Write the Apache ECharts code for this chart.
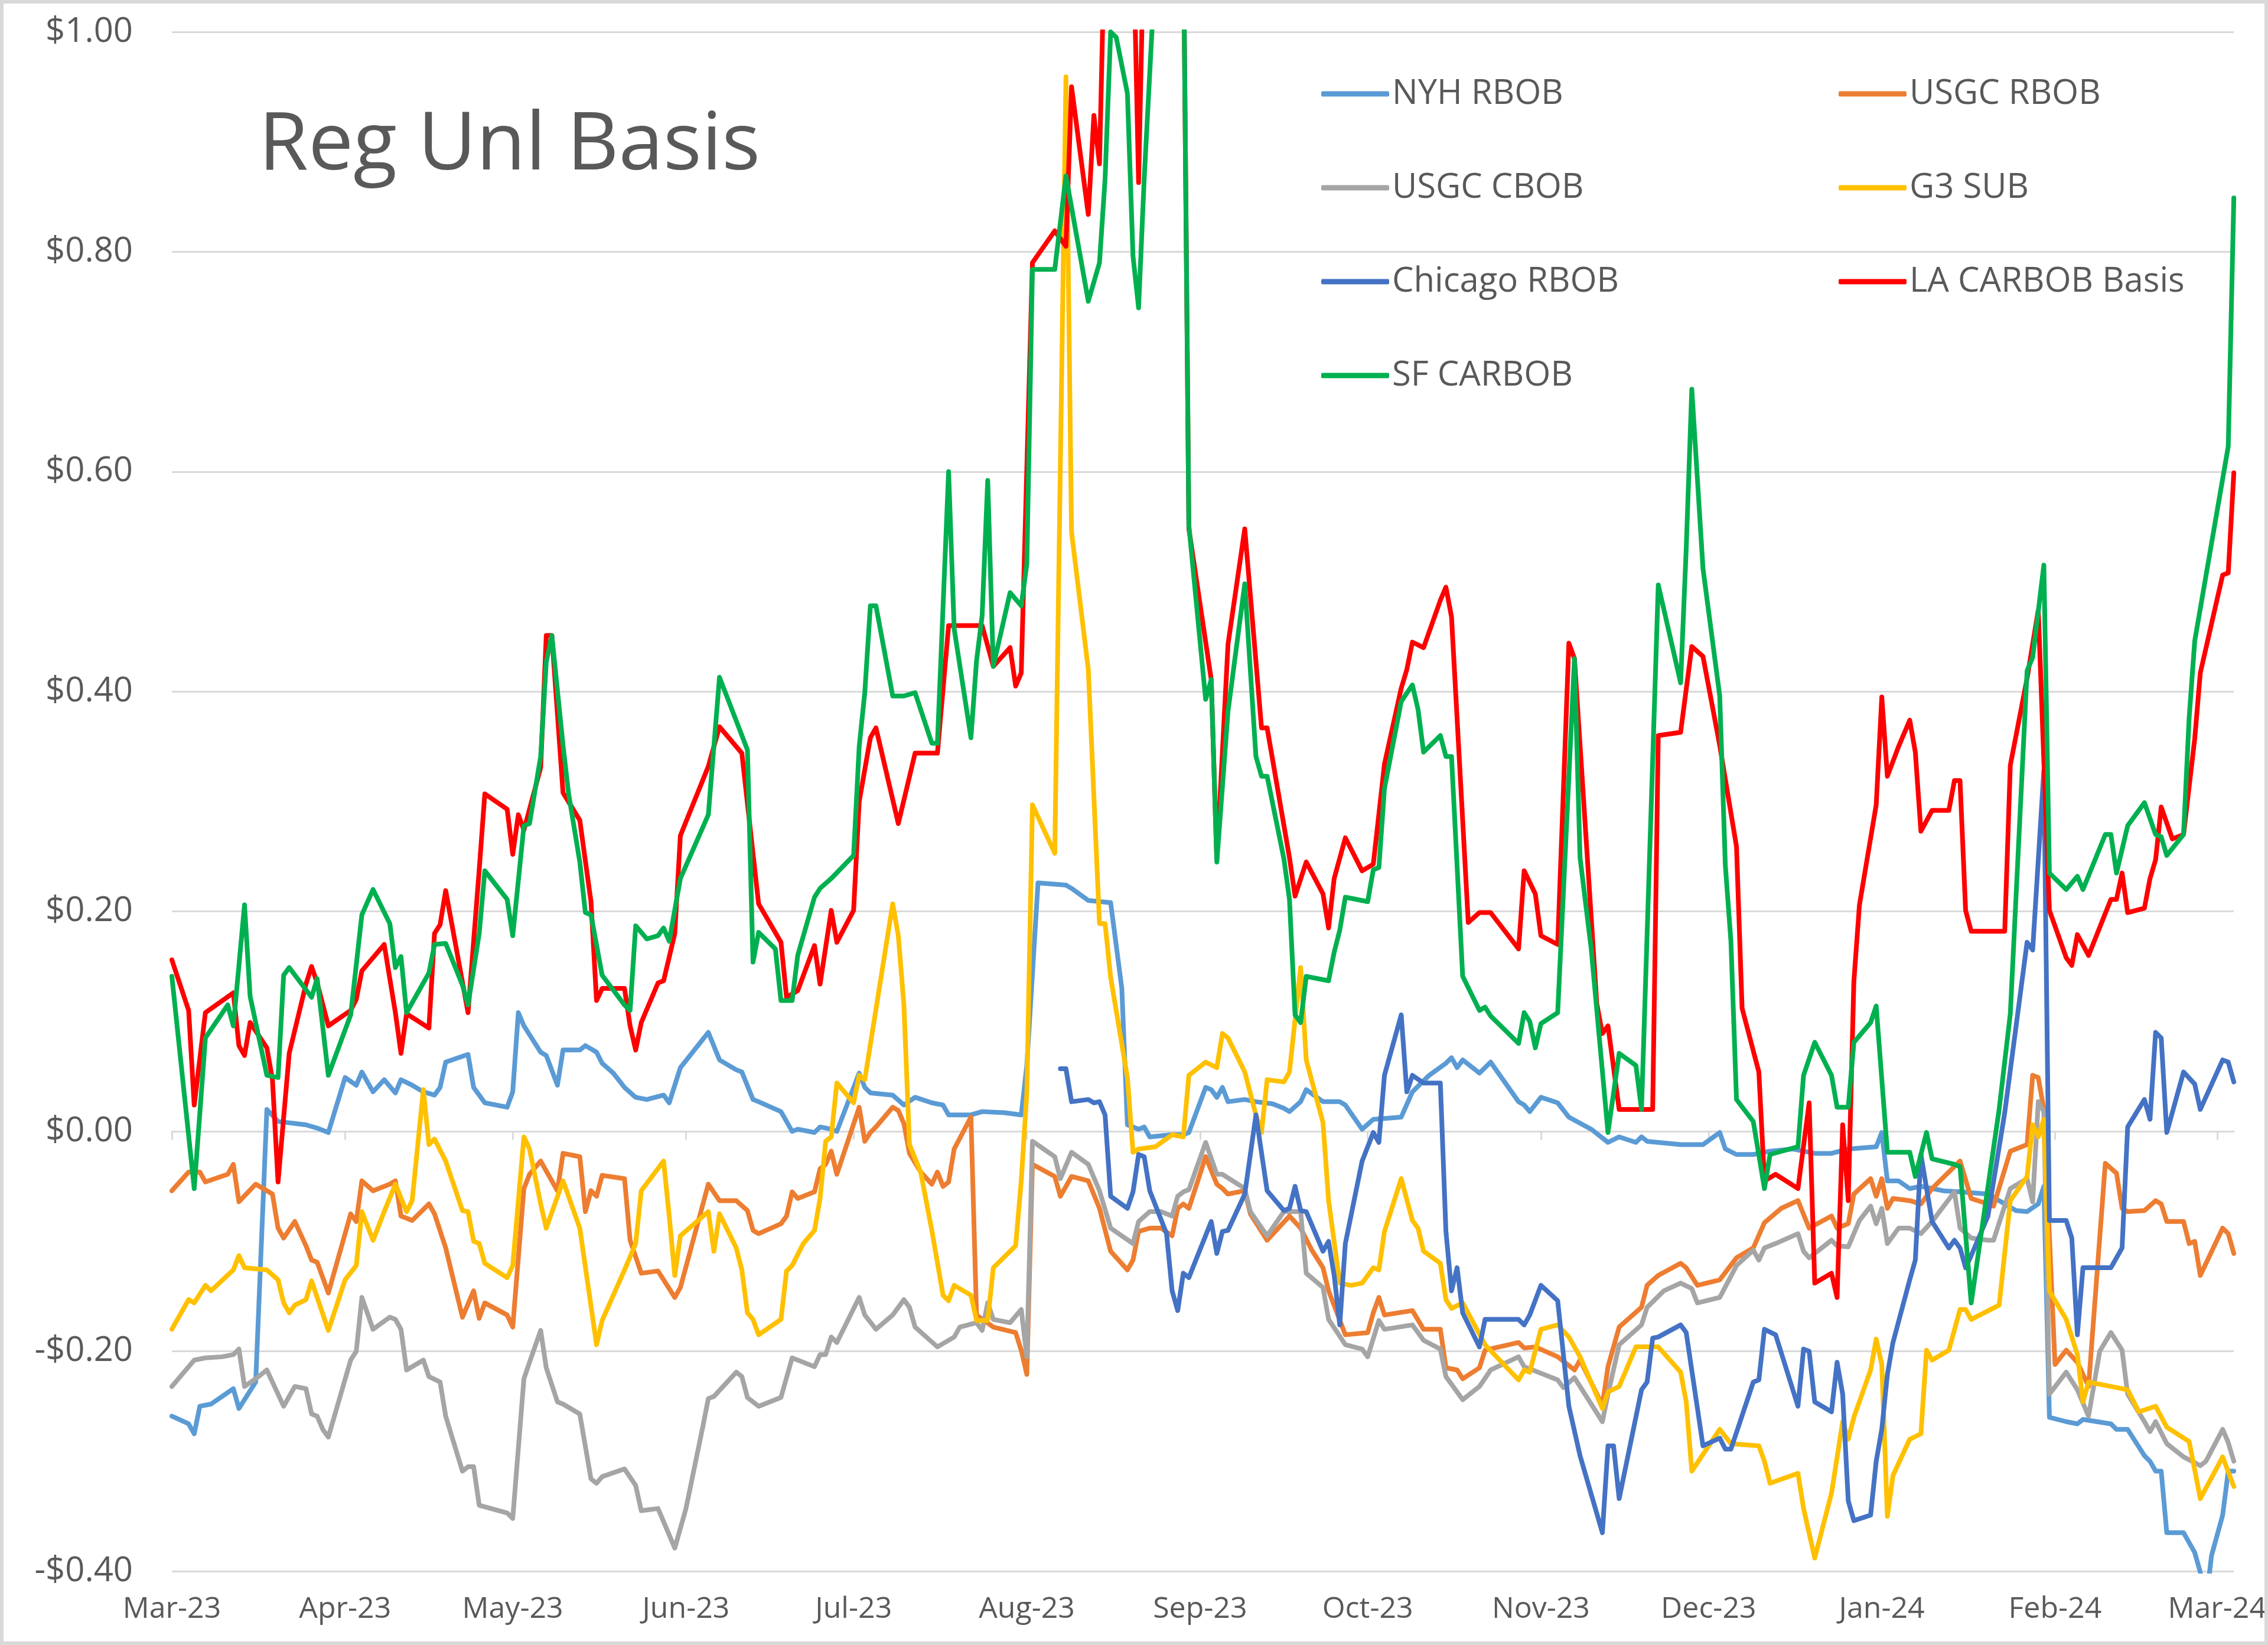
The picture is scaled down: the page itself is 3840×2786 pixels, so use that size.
<!DOCTYPE html>
<html><head><meta charset="utf-8">
<script src="https://cdn.jsdelivr.net/npm/echarts@6/dist/echarts.min.js"></script>
<style>html,body{margin:0;padding:0;background:#fff}#chart{width:3840px;height:2786px}</style>
</head><body><div id="chart"></div>
<script>
const chartTitle = 'Reg Unl Basis';
const monthTicks = ['2023-03-01','2023-04-01','2023-05-01','2023-06-01','2023-07-01','2023-08-01','2023-09-01','2023-10-01','2023-11-01','2023-12-01','2024-01-01','2024-02-01','2024-03-01'];
const monthNames = ['Jan','Feb','Mar','Apr','May','Jun','Jul','Aug','Sep','Oct','Nov','Dec'];
const xStart = '2023-03-01';
const xEnd = '2024-03-04';
const yMin = -0.4, yMax = 1.0, yStep = 0.2;

const nyhRbob = [['2023-03-01',-0.259],['2023-03-04',-0.266],['2023-03-05',-0.275],['2023-03-06',-0.250],['2023-03-08',-0.248],['2023-03-12',-0.234],['2023-03-13',-0.252],['2023-03-16',-0.228],['2023-03-18',0.020],['2023-03-20',0.009],['2023-03-25',0.006],['2023-03-27',0.003],['2023-03-29',-0.001],['2023-04-01',0.049],['2023-04-03',0.042],['2023-04-04',0.054],['2023-04-06',0.036],['2023-04-08',0.047],['2023-04-10',0.035],['2023-04-11',0.047],['2023-04-13',0.042],['2023-04-15',0.036],['2023-04-17',0.033],['2023-04-18',0.040],['2023-04-19',0.063],['2023-04-23',0.070],['2023-04-24',0.040],['2023-04-26',0.026],['2023-04-30',0.022],['2023-05-01',0.036],['2023-05-02',0.108],['2023-05-03',0.096],['2023-05-06',0.072],['2023-05-07',0.069],['2023-05-09',0.042],['2023-05-10',0.074],['2023-05-13',0.074],['2023-05-14',0.078],['2023-05-16',0.072],['2023-05-17',0.062],['2023-05-19',0.053],['2023-05-21',0.040],['2023-05-23',0.031],['2023-05-25',0.029],['2023-05-28',0.033],['2023-05-29',0.026],['2023-05-31',0.058],['2023-06-05',0.090],['2023-06-07',0.065],['2023-06-10',0.056],['2023-06-11',0.054],['2023-06-13',0.029],['2023-06-14',0.027],['2023-06-18',0.018],['2023-06-20',0.000],['2023-06-21',0.002],['2023-06-24',-0.001],['2023-06-25',0.004],['2023-06-27',0.002],['2023-06-28',0.000],['2023-07-02',0.053],['2023-07-03',0.040],['2023-07-04',0.035],['2023-07-08',0.033],['2023-07-10',0.024],['2023-07-12',0.031],['2023-07-15',0.026],['2023-07-17',0.024],['2023-07-18',0.015],['2023-07-22',0.015],['2023-07-24',0.018],['2023-07-28',0.017],['2023-07-31',0.015],['2023-08-01',0.060],['2023-08-03',0.226],['2023-08-08',0.224],['2023-08-09',0.221],['2023-08-12',0.210],['2023-08-16',0.208],['2023-08-18',0.130],['2023-08-19',0.006],['2023-08-21',0.002],['2023-08-22',0.004],['2023-08-23',-0.005],['2023-08-27',-0.003],['2023-08-29',-0.003],['2023-08-30',-0.001],['2023-09-02',0.040],['2023-09-03',0.038],['2023-09-04',0.031],['2023-09-05',0.040],['2023-09-06',0.027],['2023-09-09',0.029],['2023-09-11',0.027],['2023-09-14',0.025],['2023-09-16',0.021],['2023-09-17',0.018],['2023-09-19',0.027],['2023-09-20',0.038],['2023-09-23',0.027],['2023-09-26',0.027],['2023-09-27',0.024],['2023-09-30',0.002],['2023-10-02',0.011],['2023-10-07',0.013],['2023-10-09',0.036],['2023-10-12',0.051],['2023-10-15',0.062],['2023-10-16',0.067],['2023-10-17',0.058],['2023-10-18',0.065],['2023-10-21',0.053],['2023-10-23',0.063],['2023-10-28',0.027],['2023-10-29',0.024],['2023-10-30',0.018],['2023-11-01',0.031],['2023-11-04',0.026],['2023-11-06',0.013],['2023-11-10',0.002],['2023-11-13',-0.010],['2023-11-15',-0.005],['2023-11-18',-0.010],['2023-11-19',-0.005],['2023-11-20',-0.009],['2023-11-26',-0.012],['2023-11-30',-0.012],['2023-12-03',-0.001],['2023-12-04',-0.016],['2023-12-06',-0.021],['2023-12-09',-0.021],['2023-12-12',-0.018],['2023-12-16',-0.016],['2023-12-20',-0.020],['2023-12-23',-0.020],['2023-12-26',-0.016],['2023-12-31',-0.014],['2024-01-01',-0.001],['2024-01-02',-0.045],['2024-01-04',-0.045],['2024-01-06',-0.052],['2024-01-08',-0.050],['2024-01-12',-0.054],['2024-01-15',-0.055],['2024-01-20',-0.057],['2024-01-23',-0.066],['2024-01-25',-0.072],['2024-01-27',-0.073],['2024-01-29',-0.066],['2024-01-30',-0.050],['2024-01-31',-0.260],['2024-02-03',-0.264],['2024-02-05',-0.266],['2024-02-06',-0.262],['2024-02-11',-0.266],['2024-02-12',-0.271],['2024-02-14',-0.271],['2024-02-17',-0.295],['2024-02-18',-0.300],['2024-02-19',-0.309],['2024-02-20',-0.309],['2024-02-21',-0.365],['2024-02-24',-0.365],['2024-02-26',-0.383],['2024-02-27',-0.401],['2024-02-28',-0.430],['2024-02-29',-0.386],['2024-03-02',-0.349],['2024-03-03',-0.309],['2024-03-04',-0.309]];

const usgcRbob = [['2023-03-01',-0.054],['2023-03-04',-0.037],['2023-03-06',-0.037],['2023-03-07',-0.046],['2023-03-11',-0.039],['2023-03-12',-0.030],['2023-03-13',-0.064],['2023-03-16',-0.048],['2023-03-19',-0.057],['2023-03-20',-0.088],['2023-03-21',-0.097],['2023-03-23',-0.082],['2023-03-25',-0.104],['2023-03-26',-0.117],['2023-03-27',-0.119],['2023-03-29',-0.147],['2023-04-02',-0.075],['2023-04-03',-0.082],['2023-04-04',-0.045],['2023-04-06',-0.054],['2023-04-09',-0.048],['2023-04-10',-0.045],['2023-04-11',-0.077],['2023-04-13',-0.081],['2023-04-16',-0.066],['2023-04-17',-0.075],['2023-04-19',-0.106],['2023-04-22',-0.169],['2023-04-24',-0.145],['2023-04-25',-0.170],['2023-04-26',-0.156],['2023-04-30',-0.167],['2023-05-01',-0.178],['2023-05-03',-0.052],['2023-05-04',-0.039],['2023-05-06',-0.027],['2023-05-09',-0.054],['2023-05-10',-0.020],['2023-05-13',-0.023],['2023-05-14',-0.073],['2023-05-15',-0.054],['2023-05-16',-0.059],['2023-05-17',-0.040],['2023-05-21',-0.043],['2023-05-22',-0.099],['2023-05-24',-0.129],['2023-05-27',-0.127],['2023-05-30',-0.151],['2023-05-31',-0.142],['2023-06-05',-0.048],['2023-06-07',-0.063],['2023-06-10',-0.063],['2023-06-12',-0.072],['2023-06-13',-0.090],['2023-06-14',-0.093],['2023-06-18',-0.084],['2023-06-19',-0.077],['2023-06-20',-0.055],['2023-06-21',-0.061],['2023-06-24',-0.055],['2023-06-25',-0.034],['2023-06-26',-0.030],['2023-06-27',-0.018],['2023-06-28',-0.039],['2023-07-02',0.022],['2023-07-03',-0.009],['2023-07-04',-0.001],['2023-07-05',0.004],['2023-07-08',0.022],['2023-07-09',0.019],['2023-07-10',0.007],['2023-07-11',-0.020],['2023-07-13',-0.037],['2023-07-15',-0.048],['2023-07-16',-0.037],['2023-07-17',-0.050],['2023-07-18',-0.046],['2023-07-19',-0.016],['2023-07-22',0.013],['2023-07-23',-0.167],['2023-07-26',-0.178],['2023-07-30',-0.183],['2023-07-31',-0.199],['2023-08-01',-0.221],['2023-08-02',-0.030],['2023-08-06',-0.041],['2023-08-07',-0.059],['2023-08-09',-0.041],['2023-08-12',-0.045],['2023-08-14',-0.070],['2023-08-16',-0.109],['2023-08-19',-0.126],['2023-08-20',-0.117],['2023-08-21',-0.091],['2023-08-23',-0.088],['2023-08-25',-0.088],['2023-08-27',-0.095],['2023-08-28',-0.070],['2023-08-29',-0.066],['2023-08-30',-0.070],['2023-09-02',-0.023],['2023-09-04',-0.048],['2023-09-05',-0.052],['2023-09-06',-0.057],['2023-09-09',-0.054],['2023-09-10',-0.075],['2023-09-13',-0.099],['2023-09-17',-0.077],['2023-09-19',-0.088],['2023-09-21',-0.108],['2023-09-23',-0.124],['2023-09-24',-0.145],['2023-09-27',-0.185],['2023-10-01',-0.183],['2023-10-02',-0.165],['2023-10-03',-0.151],['2023-10-04',-0.167],['2023-10-09',-0.163],['2023-10-11',-0.180],['2023-10-14',-0.180],['2023-10-15',-0.215],['2023-10-17',-0.217],['2023-10-18',-0.225],['2023-10-21',-0.215],['2023-10-22',-0.199],['2023-10-28',-0.192],['2023-10-29',-0.197],['2023-10-31',-0.196],['2023-11-04',-0.205],['2023-11-07',-0.217],['2023-11-08',-0.208],['2023-11-12',-0.249],['2023-11-13',-0.214],['2023-11-15',-0.178],['2023-11-19',-0.160],['2023-11-20',-0.140],['2023-11-22',-0.131],['2023-11-26',-0.120],['2023-11-27',-0.124],['2023-11-29',-0.140],['2023-12-03',-0.135],['2023-12-06',-0.115],['2023-12-09',-0.106],['2023-12-11',-0.083],['2023-12-14',-0.070],['2023-12-17',-0.063],['2023-12-19',-0.088],['2023-12-23',-0.077],['2023-12-24',-0.088],['2023-12-26',-0.084],['2023-12-27',-0.057],['2023-12-30',-0.043],['2023-12-31',-0.059],['2024-01-01',-0.043],['2024-01-02',-0.070],['2024-01-03',-0.061],['2024-01-06',-0.063],['2024-01-08',-0.066],['2024-01-10',-0.052],['2024-01-15',-0.027],['2024-01-17',-0.061],['2024-01-20',-0.066],['2024-01-21',-0.068],['2024-01-24',-0.018],['2024-01-27',-0.012],['2024-01-28',0.051],['2024-01-29',0.049],['2024-01-30',0.020],['2024-02-01',-0.212],['2024-02-03',-0.199],['2024-02-05',-0.210],['2024-02-07',-0.232],['2024-02-10',-0.029],['2024-02-12',-0.038],['2024-02-13',-0.070],['2024-02-14',-0.073],['2024-02-17',-0.072],['2024-02-19',-0.063],['2024-02-20',-0.066],['2024-02-21',-0.082],['2024-02-24',-0.082],['2024-02-25',-0.102],['2024-02-26',-0.100],['2024-02-27',-0.131],['2024-03-02',-0.088],['2024-03-03',-0.093],['2024-03-04',-0.111]];

const usgcCbob = [['2023-03-01',-0.232],['2023-03-05',-0.208],['2023-03-07',-0.206],['2023-03-10',-0.205],['2023-03-12',-0.203],['2023-03-13',-0.198],['2023-03-14',-0.232],['2023-03-16',-0.225],['2023-03-18',-0.217],['2023-03-21',-0.250],['2023-03-23',-0.232],['2023-03-25',-0.234],['2023-03-26',-0.257],['2023-03-27',-0.259],['2023-03-28',-0.271],['2023-03-29',-0.278],['2023-04-02',-0.208],['2023-04-03',-0.200],['2023-04-04',-0.151],['2023-04-06',-0.180],['2023-04-09',-0.169],['2023-04-10',-0.171],['2023-04-11',-0.180],['2023-04-12',-0.217],['2023-04-15',-0.208],['2023-04-16',-0.223],['2023-04-18',-0.228],['2023-04-19',-0.259],['2023-04-22',-0.309],['2023-04-23',-0.305],['2023-04-24',-0.305],['2023-04-25',-0.340],['2023-04-30',-0.347],['2023-05-01',-0.352],['2023-05-03',-0.225],['2023-05-04',-0.210],['2023-05-06',-0.181],['2023-05-07',-0.215],['2023-05-09',-0.246],['2023-05-10',-0.248],['2023-05-13',-0.257],['2023-05-15',-0.316],['2023-05-16',-0.320],['2023-05-17',-0.314],['2023-05-21',-0.307],['2023-05-23',-0.322],['2023-05-24',-0.345],['2023-05-27',-0.343],['2023-05-30',-0.379],['2023-06-01',-0.343],['2023-06-04',-0.269],['2023-06-05',-0.243],['2023-06-06',-0.241],['2023-06-10',-0.219],['2023-06-11',-0.223],['2023-06-12',-0.242],['2023-06-14',-0.250],['2023-06-18',-0.242],['2023-06-20',-0.206],['2023-06-24',-0.214],['2023-06-25',-0.203],['2023-06-26',-0.203],['2023-06-27',-0.187],['2023-06-28',-0.192],['2023-07-02',-0.151],['2023-07-03',-0.167],['2023-07-05',-0.180],['2023-07-08',-0.167],['2023-07-10',-0.153],['2023-07-11',-0.160],['2023-07-12',-0.178],['2023-07-16',-0.196],['2023-07-19',-0.187],['2023-07-20',-0.178],['2023-07-23',-0.174],['2023-07-24',-0.181],['2023-07-25',-0.156],['2023-07-26',-0.171],['2023-07-29',-0.174],['2023-07-31',-0.162],['2023-08-01',-0.205],['2023-08-02',-0.009],['2023-08-06',-0.023],['2023-08-07',-0.043],['2023-08-09',-0.019],['2023-08-12',-0.030],['2023-08-14',-0.054],['2023-08-16',-0.088],['2023-08-20',-0.102],['2023-08-21',-0.082],['2023-08-23',-0.073],['2023-08-25',-0.073],['2023-08-27',-0.077],['2023-08-28',-0.059],['2023-08-29',-0.055],['2023-08-30',-0.053],['2023-09-02',-0.010],['2023-09-04',-0.039],['2023-09-05',-0.039],['2023-09-09',-0.052],['2023-09-10',-0.073],['2023-09-13',-0.095],['2023-09-16',-0.073],['2023-09-19',-0.073],['2023-09-20',-0.129],['2023-09-23',-0.142],['2023-09-24',-0.171],['2023-09-27',-0.194],['2023-09-30',-0.198],['2023-10-01',-0.205],['2023-10-03',-0.172],['2023-10-04',-0.180],['2023-10-09',-0.176],['2023-10-11',-0.190],['2023-10-14',-0.198],['2023-10-15',-0.223],['2023-10-18',-0.244],['2023-10-21',-0.232],['2023-10-23',-0.217],['2023-10-28',-0.205],['2023-10-29',-0.214],['2023-11-04',-0.226],['2023-11-05',-0.233],['2023-11-07',-0.224],['2023-11-12',-0.264],['2023-11-13',-0.239],['2023-11-15',-0.194],['2023-11-19',-0.176],['2023-11-20',-0.160],['2023-11-23',-0.145],['2023-11-26',-0.138],['2023-11-28',-0.143],['2023-11-29',-0.156],['2023-12-03',-0.151],['2023-12-06',-0.122],['2023-12-09',-0.108],['2023-12-10',-0.117],['2023-12-11',-0.106],['2023-12-13',-0.102],['2023-12-17',-0.093],['2023-12-18',-0.109],['2023-12-19',-0.115],['2023-12-23',-0.099],['2023-12-24',-0.104],['2023-12-26',-0.105],['2023-12-28',-0.081],['2023-12-30',-0.068],['2023-12-31',-0.084],['2024-01-01',-0.070],['2024-01-02',-0.102],['2024-01-04',-0.088],['2024-01-06',-0.088],['2024-01-08',-0.093],['2024-01-10',-0.082],['2024-01-14',-0.055],['2024-01-15',-0.088],['2024-01-17',-0.097],['2024-01-20',-0.099],['2024-01-21',-0.099],['2024-01-24',-0.052],['2024-01-27',-0.043],['2024-01-28',-0.064],['2024-01-29',0.027],['2024-01-30',0.018],['2024-01-31',-0.239],['2024-02-03',-0.219],['2024-02-05',-0.235],['2024-02-07',-0.259],['2024-02-09',-0.200],['2024-02-11',-0.183],['2024-02-13',-0.199],['2024-02-14',-0.239],['2024-02-17',-0.264],['2024-02-18',-0.273],['2024-02-19',-0.264],['2024-02-21',-0.284],['2024-02-24',-0.296],['2024-02-27',-0.304],['2024-02-28',-0.300],['2024-03-02',-0.271],['2024-03-03',-0.283],['2024-03-04',-0.300]];

const g3Sub = [['2023-03-01',-0.180],['2023-03-04',-0.153],['2023-03-05',-0.156],['2023-03-07',-0.140],['2023-03-08',-0.145],['2023-03-12',-0.126],['2023-03-13',-0.113],['2023-03-14',-0.124],['2023-03-18',-0.126],['2023-03-20',-0.135],['2023-03-21',-0.156],['2023-03-22',-0.165],['2023-03-23',-0.158],['2023-03-25',-0.153],['2023-03-26',-0.136],['2023-03-29',-0.181],['2023-04-01',-0.135],['2023-04-03',-0.122],['2023-04-04',-0.073],['2023-04-06',-0.099],['2023-04-08',-0.073],['2023-04-10',-0.048],['2023-04-12',-0.073],['2023-04-13',-0.063],['2023-04-15',0.038],['2023-04-16',-0.012],['2023-04-17',-0.007],['2023-04-19',-0.027],['2023-04-22',-0.072],['2023-04-23',-0.073],['2023-04-24',-0.100],['2023-04-25',-0.102],['2023-04-26',-0.120],['2023-04-30',-0.133],['2023-05-01',-0.122],['2023-05-03',-0.005],['2023-05-04',-0.016],['2023-05-06',-0.066],['2023-05-07',-0.088],['2023-05-10',-0.045],['2023-05-13',-0.088],['2023-05-16',-0.194],['2023-05-17',-0.172],['2023-05-21',-0.126],['2023-05-23',-0.102],['2023-05-24',-0.054],['2023-05-28',-0.027],['2023-05-29',-0.077],['2023-05-30',-0.131],['2023-05-31',-0.095],['2023-06-05',-0.073],['2023-06-06',-0.109],['2023-06-07',-0.075],['2023-06-10',-0.106],['2023-06-11',-0.126],['2023-06-12',-0.165],['2023-06-13',-0.171],['2023-06-14',-0.185],['2023-06-18',-0.171],['2023-06-19',-0.127],['2023-06-20',-0.122],['2023-06-22',-0.102],['2023-06-24',-0.090],['2023-06-25',-0.061],['2023-06-26',-0.009],['2023-06-27',-0.005],['2023-06-28',0.044],['2023-07-01',0.026],['2023-07-02',0.051],['2023-07-03',0.047],['2023-07-08',0.207],['2023-07-09',0.178],['2023-07-10',0.115],['2023-07-11',-0.012],['2023-07-13',-0.037],['2023-07-15',-0.090],['2023-07-17',-0.149],['2023-07-18',-0.154],['2023-07-19',-0.140],['2023-07-22',-0.149],['2023-07-23',-0.172],['2023-07-25',-0.172],['2023-07-26',-0.124],['2023-07-30',-0.104],['2023-07-31',-0.045],['2023-08-01',0.035],['2023-08-02',0.297],['2023-08-06',0.253],['2023-08-08',0.959],['2023-08-09',0.545],['2023-08-12',0.420],['2023-08-14',0.189],['2023-08-15',0.189],['2023-08-16',0.140],['2023-08-19',0.049],['2023-08-20',-0.019],['2023-08-21',-0.016],['2023-08-24',-0.014],['2023-08-27',-0.003],['2023-08-29',-0.005],['2023-08-30',0.051],['2023-09-02',0.063],['2023-09-04',0.058],['2023-09-05',0.089],['2023-09-06',0.085],['2023-09-09',0.054],['2023-09-11',0.015],['2023-09-12',-0.001],['2023-09-13',0.047],['2023-09-16',0.045],['2023-09-17',0.054],['2023-09-19',0.149],['2023-09-20',0.065],['2023-09-23',0.008],['2023-09-24',-0.063],['2023-09-26',-0.138],['2023-09-28',-0.140],['2023-09-30',-0.138],['2023-10-02',-0.124],['2023-10-03',-0.126],['2023-10-04',-0.091],['2023-10-07',-0.043],['2023-10-09',-0.081],['2023-10-10',-0.088],['2023-10-11',-0.109],['2023-10-14',-0.120],['2023-10-15',-0.153],['2023-10-16',-0.161],['2023-10-18',-0.156],['2023-10-22',-0.194],['2023-10-28',-0.226],['2023-10-29',-0.217],['2023-10-30',-0.219],['2023-11-01',-0.180],['2023-11-04',-0.176],['2023-11-06',-0.187],['2023-11-08',-0.205],['2023-11-12',-0.252],['2023-11-13',-0.237],['2023-11-15',-0.232],['2023-11-18',-0.196],['2023-11-22',-0.196],['2023-11-26',-0.219],['2023-11-27',-0.246],['2023-11-28',-0.309],['2023-12-03',-0.271],['2023-12-05',-0.284],['2023-12-10',-0.286],['2023-12-11',-0.300],['2023-12-12',-0.320],['2023-12-17',-0.311],['2023-12-18',-0.343],['2023-12-20',-0.388],['2023-12-23',-0.329],['2023-12-25',-0.264],['2023-12-26',-0.280],['2023-12-27',-0.260],['2023-12-30',-0.217],['2023-12-31',-0.189],['2024-01-01',-0.212],['2024-01-02',-0.350],['2024-01-03',-0.313],['2024-01-06',-0.280],['2024-01-08',-0.275],['2024-01-09',-0.199],['2024-01-10',-0.208],['2024-01-13',-0.199],['2024-01-15',-0.162],['2024-01-16',-0.162],['2024-01-17',-0.171],['2024-01-22',-0.158],['2024-01-24',-0.063],['2024-01-27',-0.041],['2024-01-28',0.006],['2024-01-29',-0.005],['2024-01-30',0.011],['2024-01-31',-0.145],['2024-02-03',-0.171],['2024-02-05',-0.203],['2024-02-06',-0.246],['2024-02-07',-0.228],['2024-02-11',-0.232],['2024-02-14',-0.235],['2024-02-16',-0.255],['2024-02-19',-0.250],['2024-02-21',-0.269],['2024-02-25',-0.282],['2024-02-27',-0.334],['2024-03-02',-0.296],['2024-03-04',-0.323]];

const chicagoRbob = [['2023-08-07',0.057],['2023-08-08',0.057],['2023-08-09',0.027],['2023-08-12',0.029],['2023-08-13',0.026],['2023-08-14',0.027],['2023-08-15',0.015],['2023-08-16',-0.059],['2023-08-19',-0.070],['2023-08-20',-0.055],['2023-08-21',-0.021],['2023-08-22',-0.023],['2023-08-23',-0.054],['2023-08-26',-0.093],['2023-08-27',-0.145],['2023-08-28',-0.163],['2023-08-29',-0.129],['2023-08-30',-0.133],['2023-09-03',-0.082],['2023-09-04',-0.111],['2023-09-05',-0.091],['2023-09-06',-0.090],['2023-09-09',-0.057],['2023-09-11',0.015],['2023-09-13',-0.054],['2023-09-16',-0.072],['2023-09-17',-0.070],['2023-09-18',-0.050],['2023-09-19',-0.072],['2023-09-20',-0.073],['2023-09-23',-0.109],['2023-09-24',-0.100],['2023-09-25',-0.131],['2023-09-26',-0.176],['2023-09-27',-0.102],['2023-09-30',-0.027],['2023-10-02',-0.001],['2023-10-03',-0.010],['2023-10-04',0.051],['2023-10-07',0.106],['2023-10-08',0.036],['2023-10-09',0.051],['2023-10-11',0.044],['2023-10-14',0.044],['2023-10-15',-0.091],['2023-10-16',-0.145],['2023-10-17',-0.124],['2023-10-18',-0.165],['2023-10-21',-0.196],['2023-10-22',-0.171],['2023-10-28',-0.171],['2023-10-29',-0.176],['2023-10-30',-0.167],['2023-11-01',-0.140],['2023-11-04',-0.154],['2023-11-06',-0.250],['2023-11-08',-0.295],['2023-11-12',-0.365],['2023-11-13',-0.286],['2023-11-14',-0.286],['2023-11-15',-0.334],['2023-11-19',-0.235],['2023-11-20',-0.228],['2023-11-21',-0.188],['2023-11-22',-0.187],['2023-11-26',-0.176],['2023-11-27',-0.183],['2023-11-30',-0.286],['2023-12-03',-0.279],['2023-12-04',-0.289],['2023-12-05',-0.289],['2023-12-09',-0.228],['2023-12-10',-0.226],['2023-12-11',-0.180],['2023-12-13',-0.185],['2023-12-17',-0.250],['2023-12-18',-0.198],['2023-12-19',-0.200],['2023-12-20',-0.246],['2023-12-23',-0.255],['2023-12-24',-0.210],['2023-12-25',-0.239],['2023-12-26',-0.336],['2023-12-27',-0.354],['2023-12-30',-0.349],['2023-12-31',-0.300],['2024-01-01',-0.271],['2024-01-02',-0.221],['2024-01-03',-0.192],['2024-01-06',-0.135],['2024-01-07',-0.117],['2024-01-08',-0.021],['2024-01-10',-0.082],['2024-01-13',-0.106],['2024-01-14',-0.099],['2024-01-15',-0.106],['2024-01-16',-0.124],['2024-01-17',-0.113],['2024-01-20',-0.077],['2024-01-23',0.017],['2024-01-27',0.172],['2024-01-28',0.165],['2024-01-30',0.328],['2024-01-31',-0.081],['2024-02-03',-0.081],['2024-02-04',-0.097],['2024-02-05',-0.185],['2024-02-06',-0.124],['2024-02-11',-0.124],['2024-02-13',-0.106],['2024-02-14',0.004],['2024-02-17',0.029],['2024-02-18',0.011],['2024-02-19',0.090],['2024-02-20',0.085],['2024-02-21',-0.001],['2024-02-24',0.054],['2024-02-26',0.043],['2024-02-27',0.020],['2024-03-02',0.065],['2024-03-03',0.063],['2024-03-04',0.045]];

const laCarbob = [['2023-03-01',0.156],['2023-03-04',0.110],['2023-03-05',0.024],['2023-03-07',0.108],['2023-03-12',0.126],['2023-03-13',0.078],['2023-03-14',0.069],['2023-03-15',0.099],['2023-03-18',0.076],['2023-03-19',0.047],['2023-03-20',-0.046],['2023-03-22',0.071],['2023-03-25',0.134],['2023-03-26',0.150],['2023-03-27',0.135],['2023-03-29',0.096],['2023-04-02',0.110],['2023-04-03',0.120],['2023-04-04',0.146],['2023-04-08',0.170],['2023-04-10',0.108],['2023-04-11',0.071],['2023-04-12',0.107],['2023-04-16',0.094],['2023-04-17',0.180],['2023-04-18',0.188],['2023-04-19',0.219],['2023-04-23',0.108],['2023-04-25',0.238],['2023-04-26',0.307],['2023-04-30',0.293],['2023-05-01',0.252],['2023-05-02',0.288],['2023-05-03',0.274],['2023-05-06',0.331],['2023-05-07',0.451],['2023-05-08',0.451],['2023-05-10',0.308],['2023-05-13',0.283],['2023-05-15',0.209],['2023-05-16',0.119],['2023-05-17',0.130],['2023-05-21',0.130],['2023-05-22',0.096],['2023-05-23',0.074],['2023-05-24',0.099],['2023-05-27',0.135],['2023-05-28',0.137],['2023-05-30',0.180],['2023-05-31',0.269],['2023-06-05',0.332],['2023-06-07',0.368],['2023-06-11',0.344],['2023-06-14',0.207],['2023-06-18',0.172],['2023-06-19',0.122],['2023-06-21',0.128],['2023-06-24',0.169],['2023-06-25',0.134],['2023-06-27',0.201],['2023-06-28',0.172],['2023-07-01',0.201],['2023-07-02',0.300],['2023-07-04',0.358],['2023-07-05',0.367],['2023-07-09',0.280],['2023-07-12',0.344],['2023-07-16',0.344],['2023-07-18',0.460],['2023-07-24',0.460],['2023-07-26',0.423],['2023-07-29',0.440],['2023-07-30',0.405],['2023-07-31',0.417],['2023-08-02',0.790],['2023-08-06',0.819],['2023-08-08',0.805],['2023-08-09',0.950],['2023-08-12',0.834],['2023-08-13',0.924],['2023-08-14',0.880],['2023-08-15',1.100],['2023-08-20',1.100],['2023-08-21',0.863],['2023-08-22',1.100],['2023-08-29',1.100],['2023-08-30',0.548],['2023-09-03',0.411],['2023-09-04',0.247],['2023-09-06',0.443],['2023-09-09',0.548],['2023-09-12',0.367],['2023-09-13',0.367],['2023-09-17',0.249],['2023-09-18',0.214],['2023-09-20',0.245],['2023-09-23',0.216],['2023-09-24',0.185],['2023-09-25',0.230],['2023-09-27',0.267],['2023-09-30',0.237],['2023-10-02',0.243],['2023-10-04',0.334],['2023-10-07',0.403],['2023-10-08',0.420],['2023-10-09',0.445],['2023-10-11',0.440],['2023-10-14',0.483],['2023-10-15',0.495],['2023-10-16',0.468],['2023-10-19',0.190],['2023-10-21',0.199],['2023-10-23',0.199],['2023-10-28',0.166],['2023-10-29',0.237],['2023-10-31',0.216],['2023-11-01',0.178],['2023-11-04',0.170],['2023-11-06',0.444],['2023-11-07',0.430],['2023-11-11',0.116],['2023-11-12',0.089],['2023-11-13',0.096],['2023-11-15',0.020],['2023-11-21',0.020],['2023-11-22',0.360],['2023-11-26',0.363],['2023-11-28',0.441],['2023-11-30',0.432],['2023-12-03',0.351],['2023-12-06',0.259],['2023-12-07',0.112],['2023-12-10',0.054],['2023-12-11',-0.045],['2023-12-13',-0.039],['2023-12-17',-0.052],['2023-12-19',0.026],['2023-12-20',-0.138],['2023-12-23',-0.129],['2023-12-24',-0.151],['2023-12-25',0.006],['2023-12-26',-0.063],['2023-12-27',0.136],['2023-12-28',0.206],['2023-12-31',0.297],['2024-01-01',0.395],['2024-01-02',0.323],['2024-01-04',0.350],['2024-01-06',0.374],['2024-01-07',0.345],['2024-01-08',0.273],['2024-01-10',0.292],['2024-01-13',0.292],['2024-01-14',0.319],['2024-01-15',0.319],['2024-01-16',0.201],['2024-01-17',0.182],['2024-01-23',0.182],['2024-01-24',0.333],['2024-01-27',0.412],['2024-01-29',0.474],['2024-01-31',0.201],['2024-02-03',0.158],['2024-02-04',0.151],['2024-02-05',0.179],['2024-02-07',0.160],['2024-02-11',0.211],['2024-02-12',0.211],['2024-02-13',0.235],['2024-02-14',0.199],['2024-02-17',0.203],['2024-02-18',0.230],['2024-02-19',0.247],['2024-02-20',0.295],['2024-02-22',0.266],['2024-02-24',0.270],['2024-02-26',0.357],['2024-02-27',0.417],['2024-03-02',0.506],['2024-03-03',0.508],['2024-03-04',0.599]];

const sfCarbob = [['2023-03-01',0.141],['2023-03-05',-0.052],['2023-03-07',0.085],['2023-03-11',0.115],['2023-03-12',0.096],['2023-03-14',0.206],['2023-03-15',0.123],['2023-03-18',0.051],['2023-03-20',0.049],['2023-03-21',0.142],['2023-03-22',0.149],['2023-03-26',0.122],['2023-03-27',0.139],['2023-03-29',0.051],['2023-04-02',0.106],['2023-04-04',0.197],['2023-04-06',0.220],['2023-04-09',0.189],['2023-04-10',0.149],['2023-04-11',0.159],['2023-04-12',0.108],['2023-04-16',0.144],['2023-04-17',0.170],['2023-04-19',0.171],['2023-04-22',0.133],['2023-04-23',0.115],['2023-04-25',0.180],['2023-04-26',0.237],['2023-04-30',0.211],['2023-05-01',0.178],['2023-05-03',0.278],['2023-05-04',0.280],['2023-05-06',0.341],['2023-05-07',0.427],['2023-05-08',0.451],['2023-05-10',0.351],['2023-05-11',0.307],['2023-05-13',0.245],['2023-05-14',0.199],['2023-05-15',0.197],['2023-05-17',0.142],['2023-05-21',0.115],['2023-05-22',0.110],['2023-05-23',0.187],['2023-05-25',0.175],['2023-05-27',0.178],['2023-05-28',0.185],['2023-05-29',0.173],['2023-05-31',0.230],['2023-06-05',0.288],['2023-06-07',0.413],['2023-06-12',0.347],['2023-06-13',0.154],['2023-06-14',0.181],['2023-06-17',0.166],['2023-06-18',0.119],['2023-06-20',0.119],['2023-06-21',0.160],['2023-06-24',0.213],['2023-06-25',0.221],['2023-06-27',0.230],['2023-07-01',0.251],['2023-07-02',0.350],['2023-07-03',0.399],['2023-07-04',0.478],['2023-07-05',0.478],['2023-07-08',0.396],['2023-07-10',0.396],['2023-07-12',0.399],['2023-07-15',0.353],['2023-07-16',0.353],['2023-07-18',0.600],['2023-07-19',0.457],['2023-07-22',0.358],['2023-07-23',0.428],['2023-07-24',0.469],['2023-07-25',0.592],['2023-07-26',0.423],['2023-07-29',0.490],['2023-07-31',0.478],['2023-08-01',0.516],['2023-08-02',0.784],['2023-08-06',0.784],['2023-08-08',0.869],['2023-08-12',0.755],['2023-08-14',0.790],['2023-08-15',0.866],['2023-08-16',1.000],['2023-08-17',0.995],['2023-08-19',0.944],['2023-08-20',0.796],['2023-08-21',0.749],['2023-08-22',0.866],['2023-08-24',1.060],['2023-08-29',1.100],['2023-08-30',0.551],['2023-09-02',0.393],['2023-09-03',0.411],['2023-09-04',0.245],['2023-09-06',0.382],['2023-09-09',0.498],['2023-09-11',0.341],['2023-09-12',0.323],['2023-09-13',0.323],['2023-09-16',0.248],['2023-09-17',0.211],['2023-09-18',0.106],['2023-09-19',0.099],['2023-09-20',0.141],['2023-09-24',0.137],['2023-09-25',0.163],['2023-09-26',0.183],['2023-09-27',0.213],['2023-10-01',0.209],['2023-10-02',0.238],['2023-10-03',0.240],['2023-10-04',0.312],['2023-10-07',0.391],['2023-10-09',0.406],['2023-10-10',0.384],['2023-10-11',0.345],['2023-10-14',0.360],['2023-10-15',0.341],['2023-10-16',0.341],['2023-10-18',0.141],['2023-10-21',0.110],['2023-10-22',0.113],['2023-10-23',0.105],['2023-10-28',0.080],['2023-10-29',0.108],['2023-10-30',0.100],['2023-10-31',0.076],['2023-11-01',0.098],['2023-11-04',0.108],['2023-11-07',0.430],['2023-11-08',0.249],['2023-11-10',0.166],['2023-11-13',-0.001],['2023-11-15',0.071],['2023-11-18',0.060],['2023-11-19',0.020],['2023-11-22',0.497],['2023-11-26',0.408],['2023-11-27',0.530],['2023-11-28',0.675],['2023-11-30',0.512],['2023-12-03',0.396],['2023-12-04',0.242],['2023-12-05',0.173],['2023-12-06',0.029],['2023-12-09',0.009],['2023-12-11',-0.052],['2023-12-12',-0.021],['2023-12-17',-0.014],['2023-12-18',0.051],['2023-12-20',0.081],['2023-12-23',0.051],['2023-12-24',0.022],['2023-12-26',0.022],['2023-12-27',0.081],['2023-12-30',0.099],['2023-12-31',0.114],['2024-01-02',-0.019],['2024-01-06',-0.019],['2024-01-07',-0.041],['2024-01-09',-0.001],['2024-01-10',-0.025],['2024-01-14',-0.030],['2024-01-15',-0.032],['2024-01-17',-0.156],['2024-01-22',0.020],['2024-01-24',0.107],['2024-01-27',0.419],['2024-01-28',0.431],['2024-01-30',0.515],['2024-01-31',0.235],['2024-02-03',0.220],['2024-02-05',0.232],['2024-02-06',0.220],['2024-02-10',0.270],['2024-02-11',0.270],['2024-02-12',0.235],['2024-02-14',0.278],['2024-02-17',0.299],['2024-02-19',0.270],['2024-02-20',0.268],['2024-02-21',0.251],['2024-02-24',0.270],['2024-02-25',0.376],['2024-02-26',0.446],['2024-03-03',0.623],['2024-03-04',0.849]];

const seriesList = [
  {name: 'NYH RBOB', data: nyhRbob, color: '#5B9BD5'},
  {name: 'USGC RBOB', data: usgcRbob, color: '#ED7D31'},
  {name: 'USGC CBOB', data: usgcCbob, color: '#A5A5A5'},
  {name: 'G3 SUB', data: g3Sub, color: '#FFC000'},
  {name: 'Chicago RBOB', data: chicagoRbob, color: '#4472C4'},
  {name: 'LA CARBOB Basis', data: laCarbob, color: '#FF0000'},
  {name: 'SF CARBOB', data: sfCarbob, color: '#00B050'}
];
const legendCol1 = ['NYH RBOB', 'USGC CBOB', 'Chicago RBOB', 'SF CARBOB'];
const legendCol2 = ['USGC RBOB', 'G3 SUB', 'LA CARBOB Basis'];

function toTime(s) { const p = s.split('-').map(Number); return new Date(p[0], p[1] - 1, p[2]).getTime(); }
const tickTimes = monthTicks.map(toTime);
const FONT = "'Open Sans', 'Noto Sans', sans-serif";
const TXT = '#595959';
const GRID = '#d9d9d9';

const chart = echarts.init(document.getElementById('chart'), null, {renderer: 'canvas'});
const legendBase = {
  orient: 'vertical', top: 129, itemWidth: 115, itemHeight: 9, itemGap: 99, icon: 'roundRect',
  padding: 0, selectedMode: false,
  textStyle: {fontSize: 58, color: TXT, fontFamily: FONT, lineHeight: 60}
};
function monthLabel(v) { const d = new Date(v); return monthNames[d.getMonth()] + '-' + String(d.getFullYear()).slice(2); }
chart.setOption({
  animation: false,
  backgroundColor: '#ffffff',
  title: {text: chartTitle, left: 438, top: 180, padding: 0,
    textStyle: {fontSize: 136, fontWeight: 'normal', color: TXT, fontFamily: FONT, lineHeight: 136}},
  legend: [
    Object.assign({}, legendBase, {left: 2237, data: legendCol1}),
    Object.assign({}, legendBase, {left: 3113, data: legendCol2})
  ],
  grid: {left: 291, right: 38, top: 54, bottom: 125, containLabel: false},
  xAxis: [
    {type: 'value', min: toTime(xStart), max: toTime(xEnd),
      axisLine: {show: false, onZero: false}, axisTick: {show: false}, splitLine: {show: false},
      axisLabel: {customValues: tickTimes, fontSize: 50, color: TXT, fontFamily: FONT, margin: 40,
        hideOverlap: false, showMinLabel: true, showMaxLabel: true, formatter: monthLabel}},
    {type: 'value', min: toTime(xStart), max: toTime(xEnd), position: 'bottom',
      axisLine: {show: true, onZero: true, lineStyle: {color: GRID, width: 3}},
      axisTick: {show: true, customValues: tickTimes, length: 14, lineStyle: {color: GRID, width: 3}},
      axisLabel: {show: false}, splitLine: {show: false}}
  ],
  yAxis: {type: 'value', min: yMin, max: yMax, interval: yStep,
    axisLine: {show: false}, axisTick: {show: false},
    splitLine: {show: true, lineStyle: {color: GRID, width: 3}},
    axisLabel: {fontSize: 58, color: TXT, fontFamily: FONT, margin: 66,
      formatter: function (v) { const r = Math.round(v * 100) / 100; return (r < 0 ? '-$' : '$') + Math.abs(r).toFixed(2); }}},
  graphic: [{type: 'rect', silent: true, z: 100, shape: {x: 3, y: 3, width: 3834, height: 2780},
    style: {fill: 'none', stroke: '#d9d9d9', lineWidth: 6}}],
  series: seriesList.map(s => ({
    name: s.name, type: 'line', xAxisIndex: 0, yAxisIndex: 0,
    data: s.data.map(p => [toTime(p[0]), p[1]]),
    color: s.color, showSymbol: false, symbol: 'none', clip: true,
    lineStyle: {width: 8, color: s.color, join: 'round', cap: 'round'},
    emphasis: {disabled: true}
  }))
});
</script>
</body></html>
